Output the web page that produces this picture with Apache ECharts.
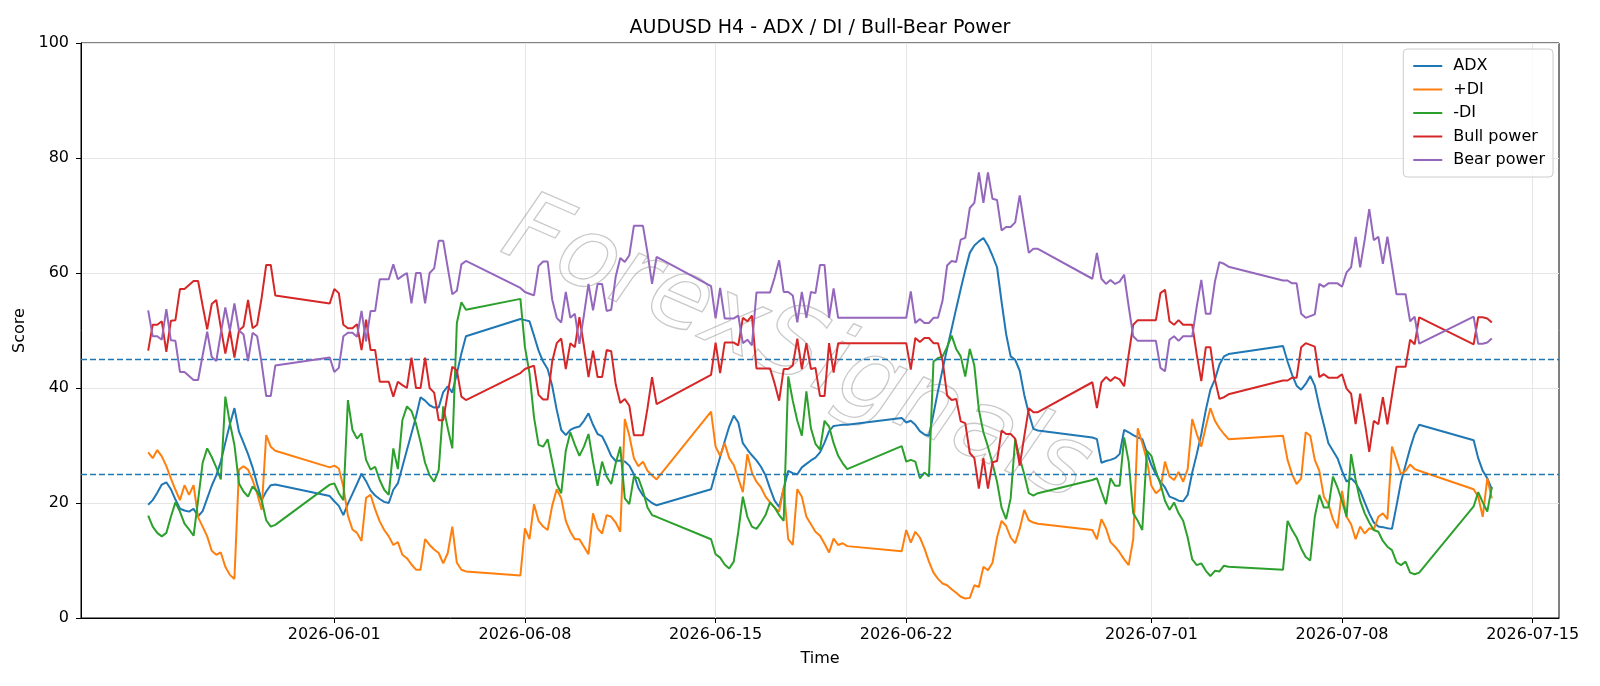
<!DOCTYPE html>
<html>
<head>
<meta charset="utf-8">
<title>AUDUSD H4 - ADX / DI / Bull-Bear Power</title>
<script src="https://cdn.jsdelivr.net/npm/echarts@6/dist/echarts.min.js"></script>
<style>
  html, body { margin: 0; padding: 0; background: #fff; }
  #chart { width: 1600px; height: 686px; }
</style>
</head>
<body>
<div id="chart"></div>
<script>
// first H4 bar (UTC) of each trading block; the values below are one row per block
var sessionStart = ['2026-05-25 04:00', '2026-05-31 20:00', '2026-06-07 20:00', '2026-06-14 20:00',
                    '2026-06-21 20:00', '2026-06-28 20:00', '2026-07-05 20:00', '2026-07-12 20:00'];
var dateTicks = ['2026-06-01', '2026-06-08', '2026-06-15', '2026-06-22', '2026-07-01', '2026-07-08', '2026-07-15'];
var levels = [45, 25];

var adx = [
  [19.7, 20.5, 21.8, 23.2, 23.6, 22.4, 20.6, 19.0, 18.7, 18.5, 19.0, 17.7, 18.6, 20.8, 23.0, 24.8, 27.2, 30.5, 33.7, 36.5, 32.4, 30.5, 28.5, 26.2, 23.3, 20.5, 22.0, 23.1, 23.2],
  [21.2, 20.3, 19.5, 17.9, 19.9, 21.6, 23.3, 25.1, 23.8, 22.2, 21.3, 20.7, 20.2, 20.0, 22.3, 23.4, 26.3, 29.2, 32.1, 35.0, 38.4, 37.8, 37.0, 36.6, 36.6, 39.3, 40.3, 39.2, 42.5, 46.0, 49.0],
  [52.0, 51.8, 51.6, 49.1, 46.5, 44.6, 43.3, 40.4, 36.2, 32.7, 31.8, 32.7, 33.1, 33.3, 34.3, 35.6, 33.6, 32.0, 31.6, 30.0, 28.2, 27.3, 27.4, 27.2, 26.5, 25.0, 22.6, 21.3, 20.6, 20.0, 19.6],
  [22.4, 25.3, 28.0, 30.7, 33.3, 35.2, 34.0, 30.4, 29.3, 28.3, 27.4, 26.3, 24.8, 22.5, 20.4, 19.3, 22.5, 25.6, 25.2, 25.0, 26.2, 26.8, 27.4, 27.9, 28.8, 30.5, 32.5, 33.4, 33.5, 33.6, 33.6],
  [34.8, 34.0, 34.3, 33.6, 32.5, 31.9, 31.7, 35.5, 39.5, 43.2, 46.8, 50.3, 53.8, 57.2, 60.5, 63.5, 64.8, 65.5, 66.1, 64.8, 63.0, 61.0, 55.0, 49.4, 45.5, 44.9, 43.0, 38.8, 35.6, 32.9, 32.6],
  [31.4, 31.1, 27.0, 27.3, 27.5, 27.8, 28.5, 32.7, 32.3, 31.8, 31.4, 31.1, 28.8, 26.6, 25.0, 23.7, 22.7, 21.1, 20.8, 20.4, 20.3, 21.4, 25.3, 28.5, 32.0, 36.2, 39.7, 41.5, 44.1, 45.5, 45.9],
  [47.3, 44.6, 42.3, 40.4, 39.7, 40.7, 42.1, 40.4, 36.8, 33.6, 30.4, 29.1, 27.8, 25.6, 23.7, 24.3, 23.5, 22.1, 20.1, 18.2, 16.6, 15.9, 15.8, 15.6, 15.5, 19.5, 23.7, 26.6, 29.5, 32.0, 33.6],
  [30.9, 27.8, 25.6, 24.3, 22.4]
];
var plusDI = [
  [28.8, 27.8, 29.2, 28.1, 26.4, 24.3, 22.3, 20.5, 23.1, 21.4, 23.1, 17.5, 15.9, 14.2, 11.7, 11.0, 11.4, 8.9, 7.5, 6.8, 25.8, 26.4, 25.8, 24.0, 21.7, 18.8, 31.8, 29.8, 29.1],
  [26.2, 26.5, 26.0, 22.8, 17.8, 15.4, 14.8, 13.4, 20.9, 21.4, 18.9, 16.8, 15.3, 14.2, 12.7, 13.2, 11.0, 10.4, 9.3, 8.4, 8.4, 13.7, 12.7, 11.9, 11.3, 9.5, 11.3, 15.9, 9.6, 8.4, 8.1],
  [7.4, 15.6, 13.7, 19.8, 16.9, 15.9, 15.3, 19.5, 22.4, 20.8, 16.9, 15.0, 13.7, 13.7, 12.4, 11.1, 18.2, 15.6, 14.7, 17.9, 17.6, 16.6, 15.0, 34.6, 31.7, 27.8, 26.4, 27.2, 25.6, 24.8, 24.1],
  [35.9, 29.8, 28.2, 30.4, 27.8, 26.6, 24.3, 21.9, 28.5, 25.3, 23.7, 22.7, 21.1, 20.1, 19.2, 18.5, 22.7, 13.7, 12.7, 22.4, 21.1, 17.6, 16.3, 15.0, 14.3, 12.9, 11.4, 13.8, 12.7, 13.0, 12.5],
  [11.6, 15.3, 13.1, 15.0, 14.0, 12.1, 9.8, 7.9, 6.8, 6.0, 5.7, 5.0, 4.4, 3.7, 3.4, 3.5, 5.7, 5.4, 8.9, 8.3, 9.6, 14.0, 16.9, 16.0, 14.0, 13.0, 15.5, 18.8, 17.0, 16.6, 16.4],
  [15.3, 13.7, 17.2, 15.6, 13.2, 12.4, 11.4, 10.2, 9.2, 13.7, 33.0, 30.4, 27.5, 23.0, 21.7, 22.4, 27.2, 24.6, 24.0, 25.4, 23.7, 25.9, 34.6, 32.0, 29.8, 33.3, 36.5, 34.3, 33.0, 32.0, 31.1],
  [31.7, 27.5, 25.0, 23.3, 24.3, 32.3, 31.7, 27.5, 25.6, 21.1, 19.8, 17.2, 15.6, 22.1, 17.6, 16.3, 13.7, 15.9, 14.7, 15.6, 15.4, 17.6, 18.2, 17.2, 29.8, 27.5, 25.0, 25.6, 26.7, 25.9, 25.6],
  [22.4, 21.1, 17.6, 24.3, 20.8]
];
var minusDI = [
  [17.8, 15.9, 14.8, 14.2, 14.8, 17.6, 20.1, 18.5, 16.4, 15.4, 14.3, 20.5, 27.0, 29.5, 28.0, 26.2, 24.1, 38.5, 33.9, 30.1, 23.4, 22.0, 21.1, 22.9, 22.0, 20.5, 17.0, 15.9, 16.2],
  [23.2, 23.4, 21.7, 20.5, 37.9, 32.7, 31.2, 32.1, 27.5, 25.8, 26.3, 24.0, 22.3, 21.4, 29.5, 25.9, 34.4, 36.8, 36.0, 33.8, 30.6, 27.0, 24.8, 23.7, 25.7, 36.8, 33.0, 29.5, 51.3, 54.9, 53.6],
  [55.5, 47.1, 42.6, 34.9, 30.1, 29.8, 31.1, 27.2, 23.3, 21.7, 29.1, 32.3, 30.1, 28.2, 29.8, 32.0, 27.2, 23.0, 27.2, 24.6, 23.3, 26.9, 29.8, 20.8, 19.8, 24.6, 24.3, 22.1, 19.2, 17.9, 17.6],
  [13.7, 11.1, 10.5, 9.3, 8.6, 9.8, 15.0, 21.1, 17.6, 15.9, 15.5, 16.6, 17.9, 20.1, 19.2, 17.9, 16.9, 42.0, 37.8, 34.3, 31.7, 39.4, 33.0, 30.3, 29.3, 34.3, 33.3, 30.4, 28.2, 26.9, 25.9],
  [29.9, 27.2, 27.5, 27.2, 24.3, 25.3, 24.6, 44.6, 45.2, 45.5, 47.1, 49.1, 46.8, 45.5, 42.0, 46.8, 43.9, 36.2, 32.3, 29.8, 26.9, 23.7, 19.2, 17.2, 20.8, 31.1, 27.8, 25.0, 21.7, 21.3, 21.7],
  [24.0, 24.3, 22.0, 19.8, 24.3, 23.0, 23.0, 31.4, 27.2, 18.2, 16.9, 15.3, 29.1, 28.2, 25.5, 23.3, 20.4, 18.8, 20.1, 18.2, 16.9, 14.0, 10.2, 9.2, 9.5, 8.2, 7.3, 8.2, 8.1, 9.1, 8.9],
  [8.4, 16.9, 15.3, 14.0, 12.1, 10.6, 10.0, 17.6, 21.4, 19.2, 19.2, 24.6, 22.7, 20.4, 17.6, 28.5, 24.0, 20.4, 18.2, 16.6, 15.3, 15.0, 13.4, 12.4, 11.8, 9.7, 9.2, 9.8, 7.9, 7.6, 7.9],
  [19.4, 21.9, 20.1, 18.5, 22.8]
];
var bullPower = [
  [46.5, 51.0, 51.0, 51.6, 46.3, 51.7, 51.8, 57.2, 57.2, 57.9, 58.6, 58.6, 54.3, 50.2, 54.6, 55.3, 50.5, 46.0, 50.0, 45.3, 50.0, 50.7, 55.3, 50.4, 51.0, 55.7, 61.4, 61.4, 56.1],
  [54.7, 57.2, 56.5, 51.0, 50.4, 50.4, 51.1, 46.6, 51.9, 46.6, 46.6, 41.1, 41.1, 41.1, 38.5, 41.1, 40.5, 40.0, 45.3, 40.0, 40.0, 45.3, 40.0, 39.2, 34.4, 34.4, 39.1, 43.7, 43.1, 38.5, 37.9],
  [42.6, 43.3, 43.6, 43.9, 38.8, 38.0, 38.0, 44.6, 47.8, 48.6, 43.3, 47.8, 47.1, 52.3, 47.3, 41.9, 46.5, 41.9, 41.9, 46.6, 46.4, 40.6, 37.4, 38.1, 36.9, 31.8, 31.8, 31.8, 36.5, 41.9, 37.2],
  [42.3, 47.9, 42.6, 47.9, 47.9, 47.9, 47.4, 52.2, 51.6, 52.6, 43.4, 43.4, 43.4, 43.4, 40.8, 37.8, 43.3, 43.3, 43.9, 48.6, 43.3, 47.8, 43.3, 43.5, 38.6, 38.6, 47.8, 42.7, 47.8, 47.8, 47.8],
  [47.8, 47.8, 43.2, 48.7, 48.0, 48.7, 48.7, 47.8, 47.8, 44.8, 38.7, 37.9, 38.1, 34.2, 33.9, 28.7, 27.8, 22.5, 27.8, 22.5, 27.1, 27.3, 32.6, 32.0, 32.0, 31.2, 26.5, 31.6, 36.5, 35.8, 35.8],
  [41.0, 36.5, 41.0, 41.9, 41.2, 41.9, 41.5, 40.3, 45.8, 51.0, 51.8, 51.8, 51.8, 51.8, 51.8, 56.5, 57.1, 51.6, 51.0, 51.8, 51.0, 51.0, 51.0, 45.8, 41.2, 47.1, 47.1, 41.5, 38.1, 38.4, 38.9],
  [41.3, 41.3, 41.8, 41.8, 47.1, 47.8, 47.5, 47.2, 41.9, 42.4, 41.8, 41.8, 41.8, 42.4, 39.9, 39.0, 33.7, 39.0, 34.2, 28.9, 34.3, 33.7, 38.4, 33.7, 38.7, 43.7, 43.7, 43.7, 48.4, 47.6, 52.3],
  [47.6, 52.3, 52.3, 52.1, 51.4]
];
var bearPower = [
  [53.5, 49.0, 49.0, 48.4, 53.7, 48.3, 48.2, 42.8, 42.8, 42.1, 41.4, 41.4, 45.7, 49.8, 45.4, 44.7, 49.5, 54.0, 50.0, 54.7, 50.0, 49.3, 44.7, 49.6, 49.0, 44.3, 38.6, 38.6, 43.9],
  [45.3, 42.8, 43.5, 49.0, 49.6, 49.6, 48.9, 53.4, 48.1, 53.4, 53.4, 58.9, 58.9, 58.9, 61.5, 58.9, 59.5, 60.0, 54.7, 60.0, 60.0, 54.7, 60.0, 60.8, 65.6, 65.6, 60.9, 56.3, 56.9, 61.5, 62.1],
  [57.4, 56.7, 56.4, 56.1, 61.2, 62.0, 62.0, 55.4, 52.2, 51.4, 56.7, 52.2, 52.9, 47.7, 52.7, 58.1, 53.5, 58.1, 58.1, 53.4, 53.6, 59.4, 62.6, 61.9, 63.1, 68.2, 68.2, 68.2, 63.5, 58.1, 62.8],
  [57.7, 52.1, 57.4, 52.1, 52.1, 52.1, 52.6, 47.8, 48.4, 47.4, 56.6, 56.6, 56.6, 56.6, 59.2, 62.2, 56.7, 56.7, 56.1, 51.4, 56.7, 52.2, 56.7, 56.5, 61.4, 61.4, 52.2, 57.3, 52.2, 52.2, 52.2],
  [52.2, 52.2, 56.8, 51.3, 52.0, 51.3, 51.3, 52.2, 52.2, 55.2, 61.3, 62.1, 61.9, 65.8, 66.1, 71.3, 72.2, 77.5, 72.2, 77.5, 72.9, 72.7, 67.4, 68.0, 68.0, 68.8, 73.5, 68.4, 63.5, 64.2, 64.2],
  [59.0, 63.5, 59.0, 58.1, 58.8, 58.1, 58.5, 59.7, 54.2, 49.0, 48.2, 48.2, 48.2, 48.2, 48.2, 43.5, 42.9, 48.4, 49.0, 48.2, 49.0, 49.0, 49.0, 54.2, 58.8, 52.9, 52.9, 58.5, 61.9, 61.6, 61.1],
  [58.7, 58.7, 58.2, 58.2, 52.9, 52.2, 52.5, 52.8, 58.1, 57.6, 58.2, 58.2, 58.2, 57.6, 60.1, 61.0, 66.3, 61.0, 65.8, 71.1, 65.7, 66.3, 61.6, 66.3, 61.3, 56.3, 56.3, 56.3, 51.6, 52.4, 47.7],
  [52.4, 47.7, 47.7, 47.9, 48.6]
];

var H4 = 4 * 3600 * 1000;
function utc(s) { return Date.parse(s.replace(' ', 'T') + ':00Z'); }
function pairs(weeks) {
  var out = [];
  weeks.forEach(function (vals, w) {
    var t0 = utc(sessionStart[w]);
    vals.forEach(function (v, i) { out.push([t0 + i * H4, v]); });
  });
  return out;
}
function pad(n) { return n < 10 ? '0' + n : '' + n; }
function fmtDate(ms) {
  var d = new Date(ms);
  return d.getUTCFullYear() + '-' + pad(d.getUTCMonth() + 1) + '-' + pad(d.getUTCDate());
}

var first = utc(sessionStart[0]);
var lastBlock = adx[adx.length - 1];
var last = utc(sessionStart[sessionStart.length - 1]) + (lastBlock.length - 1) * H4;
var span = last - first;
var tickMs = dateTicks.map(function (d) { return Date.parse(d + 'T00:00:00Z'); });

var font = 'DejaVu Sans';
var colors = ['#1f77b4', '#ff7f0e', '#2ca02c', '#d62728', '#9467bd'];

function lineSeries(name, weeks, idx) {
  return {
    name: name, type: 'line', data: pairs(weeks), showSymbol: false,
    lineStyle: { width: 2, color: colors[idx] }, itemStyle: { color: colors[idx] },
    emphasis: { disabled: true }, z: 2 + idx
  };
}

var series = [
  lineSeries('ADX', adx, 0),
  lineSeries('+DI', plusDI, 1),
  lineSeries('-DI', minusDI, 2),
  lineSeries('Bull power', bullPower, 3),
  lineSeries('Bear power', bearPower, 4)
];
series[0].markLine = {
  silent: true, symbol: 'none', label: { show: false },
  lineStyle: { color: '#1f77b4', type: [6, 3], width: 1.4 },
  data: levels.map(function (l) { return { yAxis: l }; })
};

var chart = echarts.init(document.getElementById('chart'), null, { renderer: 'canvas' });
chart.setOption({
  animation: false,
  backgroundColor: '#ffffff',
  textStyle: { fontFamily: font },
  title: {
    text: 'AUDUSD H4 - ADX / DI / Bull-Bear Power',
    left: 820, top: 19, textAlign: 'center', padding: 0,
    textStyle: { fontFamily: font, fontSize: 19, fontWeight: 'normal', color: '#000' }
  },
  legend: {
    orient: 'vertical', right: 47, top: 49,
    icon: 'rect', itemWidth: 29, itemHeight: 2, itemGap: 7.5,
    padding: [9, 8, 9, 10],
    backgroundColor: 'rgba(255,255,255,0.8)', borderColor: '#cccccc', borderWidth: 1, borderRadius: 4,
    textStyle: { fontFamily: font, fontSize: 16, color: '#000', lineHeight: 15, padding: [0, 0, 0, 6] },
    data: ['ADX', '+DI', '-DI', 'Bull power', 'Bear power']
  },
  graphic: [{
    type: 'text', x: 796, y: 352, rotation: -0.41, silent: true, z: 1,
    style: {
      text: 'ForexSignals', font: 'italic 98px "DejaVu Sans"',
      fill: 'rgba(0,0,0,0)', stroke: 'rgba(120,120,120,0.4)', lineWidth: 1.3,
      align: 'center', verticalAlign: 'middle'
    }
  }],
  grid: { left: 81, right: 41, top: 43, bottom: 68, show: true, borderColor: '#000', borderWidth: 1, backgroundColor: 'transparent' },
  xAxis: {
    type: 'value', min: first - 0.05 * span, max: last + 0.05 * span,
    name: 'Time', nameLocation: 'middle', nameGap: 33,
    nameTextStyle: { fontFamily: font, fontSize: 16, color: '#000' },
    axisLine: { show: true, lineStyle: { color: '#000', width: 1 } },
    axisTick: { show: true, inside: false, length: 5, lineStyle: { color: '#000' }, customValues: tickMs },
    axisLabel: { fontFamily: font, fontSize: 16, color: '#000', margin: 9, customValues: tickMs, formatter: function (v) { return fmtDate(v); } },
    splitLine: { show: true, lineStyle: { color: '#e6e6e6', width: 1 } }
  },
  yAxis: {
    type: 'value', min: 0, max: 100, interval: 20,
    name: 'Score', nameLocation: 'middle', nameGap: 48,
    nameTextStyle: { fontFamily: font, fontSize: 16, color: '#000' },
    axisLine: { show: true, lineStyle: { color: '#000', width: 1 } },
    axisTick: { show: true, inside: false, length: 5, lineStyle: { color: '#000' } },
    axisLabel: { fontFamily: font, fontSize: 16, color: '#000', margin: 12 },
    splitLine: { show: true, lineStyle: { color: '#e6e6e6', width: 1 } }
  },
  series: series
});
</script>
</body>
</html>
